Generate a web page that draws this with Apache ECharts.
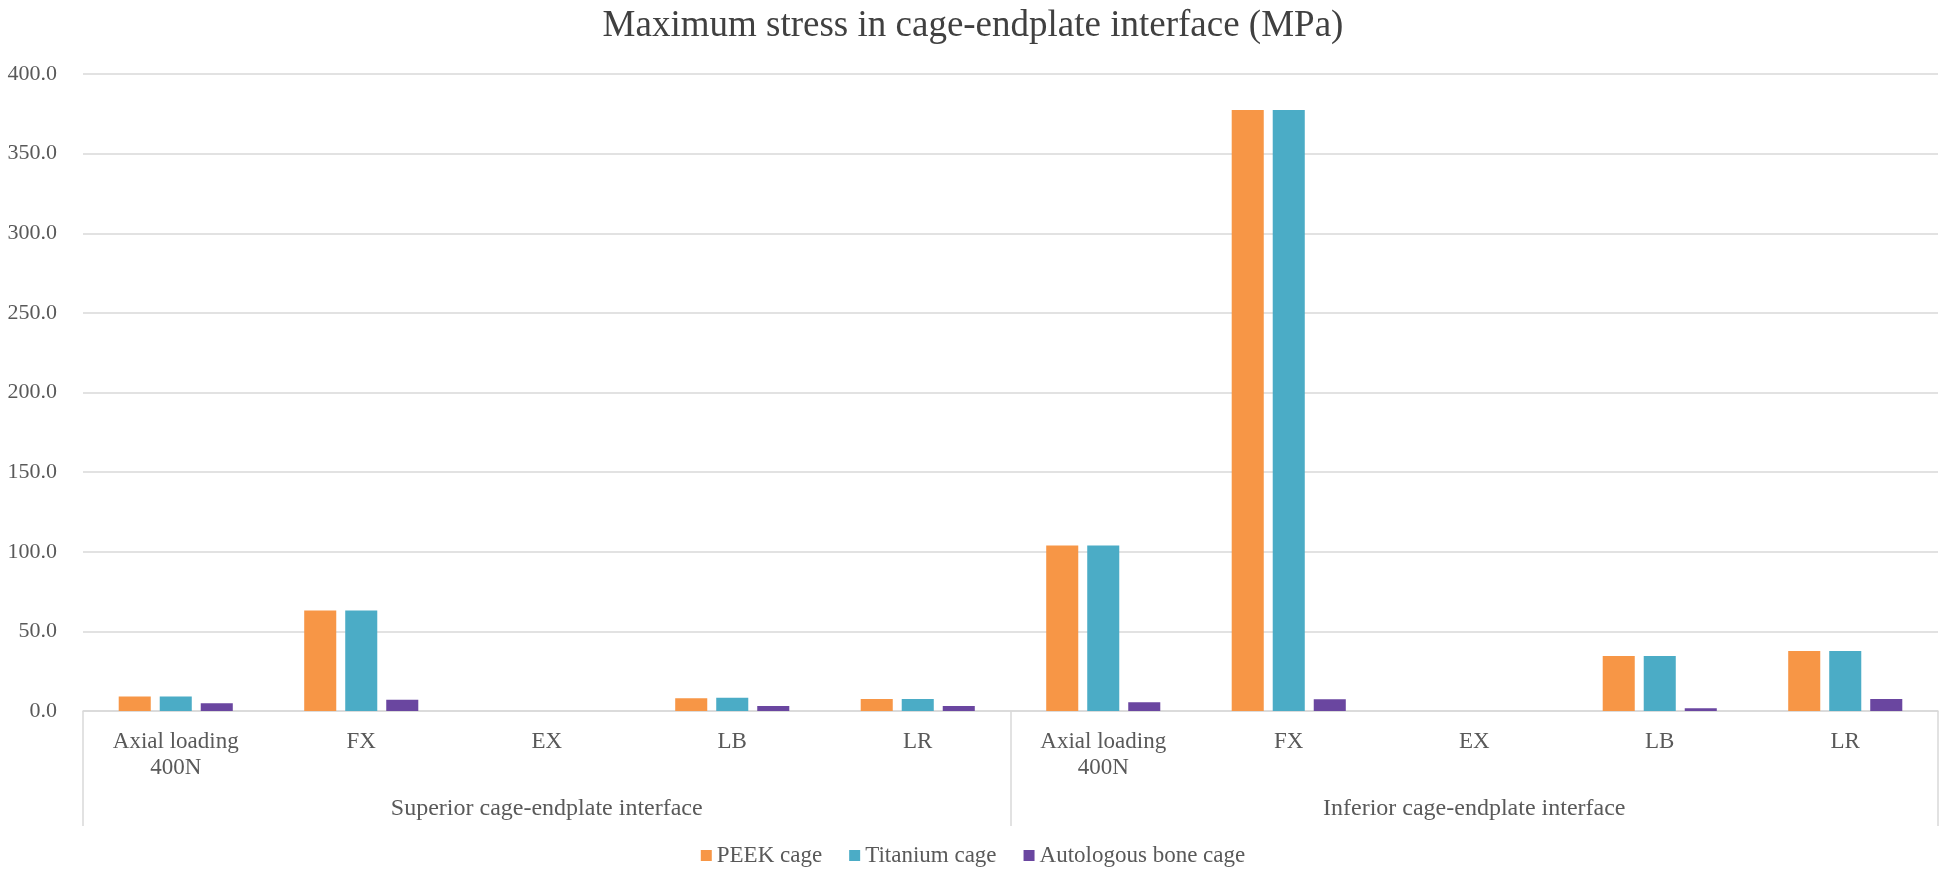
<!DOCTYPE html>
<html><head><meta charset="utf-8">
<script src="https://cdn.jsdelivr.net/npm/echarts@6/dist/echarts.min.js"></script>
<style>html,body{margin:0;padding:0;background:#fff}#c{width:1946px;height:877px}</style>
</head><body><div id="c"></div>
<script>
// ---- data ----
const categories = ['Axial loading\n400N', 'FX', 'EX', 'LB', 'LR', 'Axial loading\n400N', 'FX', 'EX', 'LB', 'LR'];
const groups = ['Superior cage-endplate interface', 'Inferior cage-endplate interface'];
const seriesNames = ['PEEK cage', 'Titanium cage', 'Autologous bone cage'];
const peek = [9.1, 63.1, 0, 8.0, 7.6, 104.0, 377.4, 0, 34.5, 37.7];
const titanium = [9.1, 63.1, 0, 8.3, 7.6, 104.0, 377.4, 0, 34.5, 37.7];
const bone = [4.9, 7.0, 0, 3.2, 3.2, 5.5, 7.4, 0, 1.7, 7.6];
const yMin = 0, yMax = 400, yStep = 50;
const titleText = 'Maximum stress in cage-endplate interface (MPa)';

// ---- style ----
const FONT = '"Liberation Serif", "Times New Roman", serif';
const colors = ['#F79646', '#4BACC6', '#6A46A0'];
const gridColor = '#d9d9d9';
const labelColor = '#595959';

const chart = echarts.init(document.getElementById('c'), null, { renderer: 'canvas' });
const seriesData = [peek, titanium, bone];
chart.setOption({
  animation: false,
  backgroundColor: '#ffffff',
  color: colors,
  title: {
    text: titleText, left: 'center', top: 3,
    textStyle: { fontFamily: FONT, fontSize: 37, fontWeight: 'normal', color: '#404040' }
  },
  legend: {
    data: seriesNames, bottom: 5, left: 'center', icon: 'rect',
    itemWidth: 11, itemHeight: 11, itemGap: 27,
    textStyle: { fontFamily: FONT, fontSize: 23, color: labelColor }
  },
  grid: { left: 83, right: 8, top: 74, bottom: 166, containLabel: false },
  xAxis: [
    {
      type: 'category', data: categories, gridIndex: 0,
      axisLine: { show: true, lineStyle: { color: gridColor, width: 1.5 } },
      axisTick: { show: false },
      axisLabel: { interval: 0, fontFamily: FONT, fontSize: 23, lineHeight: 26, margin: 18, color: labelColor }
    },
    {
      type: 'category', data: groups, gridIndex: 0, position: 'bottom',
      axisLine: { show: false },
      axisTick: { show: true, length: 115, lineStyle: { color: gridColor, width: 1.5 } },
      axisLabel: { interval: 0, fontFamily: FONT, fontSize: 24, lineHeight: 26, margin: 85, color: labelColor },
      splitLine: { show: false }
    }
  ],
  yAxis: {
    type: 'value', min: yMin, max: yMax, interval: yStep,
    axisLine: { show: false }, axisTick: { show: false },
    splitLine: { lineStyle: { color: gridColor, width: 1.5 } },
    axisLabel: { fontFamily: FONT, fontSize: 22, color: labelColor, margin: 26,
      formatter: v => v.toFixed(1) }
  },
  series: seriesNames.map((name, i) => ({
    name, type: 'bar', data: seriesData[i], xAxisIndex: 0,
    barGap: '28%', barCategoryGap: '38.5%',
    itemStyle: { color: colors[i] }
  }))
});
</script></body></html>
